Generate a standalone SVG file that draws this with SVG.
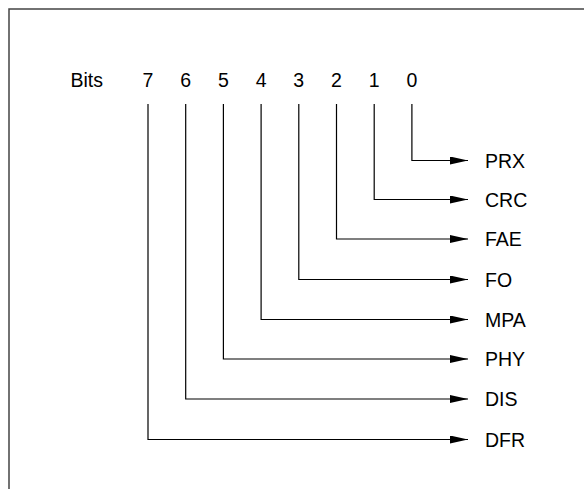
<svg xmlns="http://www.w3.org/2000/svg" width="584" height="489" viewBox="0 0 584 489">
<style>
text{font-family:"Liberation Sans",Arial,sans-serif;font-size:19.5px;fill:#000}
.c{fill:none;stroke:#000;stroke-width:1.2}
.f{fill:none;stroke:#444;stroke-width:1.5}
.m{text-anchor:middle}
</style>
<defs>
<marker id="ah" markerWidth="18" markerHeight="8" refX="18" refY="4" orient="auto" markerUnits="userSpaceOnUse">
<path d="M0,0 L18,4 L0,8 Z" fill="#000"/>
</marker>
</defs>
<rect width="584" height="489" fill="#fff"/>
<path class="f" d="M9,489 V9 H584"/>
<g id="header">
<text x="70.5" y="86.5">Bits</text>
<text class="m" x="148" y="86.5">7</text>
<text class="m" x="185.7" y="86.5">6</text>
<text class="m" x="223.4" y="86.5">5</text>
<text class="m" x="261.1" y="86.5">4</text>
<text class="m" x="298.8" y="86.5">3</text>
<text class="m" x="336.5" y="86.5">2</text>
<text class="m" x="374.2" y="86.5">1</text>
<text class="m" x="411.9" y="86.5">0</text>
</g>
<g id="connectors">
<path class="c" marker-end="url(#ah)" d="M411.9,104 V160.5 H468"/>
<path class="c" marker-end="url(#ah)" d="M374.2,104 V199.5 H468"/>
<path class="c" marker-end="url(#ah)" d="M336.5,104 V239 H468"/>
<path class="c" marker-end="url(#ah)" d="M298.8,104 V279.5 H468"/>
<path class="c" marker-end="url(#ah)" d="M261.1,104 V319.5 H468"/>
<path class="c" marker-end="url(#ah)" d="M223.4,104 V359 H468"/>
<path class="c" marker-end="url(#ah)" d="M185.7,104 V399 H468"/>
<path class="c" marker-end="url(#ah)" d="M148,104 V439.5 H468"/>
</g>
<g id="prx"><text x="485" y="167.5">PRX</text></g>
<g id="crc"><text x="485" y="206.5">CRC</text></g>
<g id="fae"><text x="485" y="246">FAE</text></g>
<g id="fo"><text x="485" y="286.5">FO</text></g>
<g id="mpa"><text x="485" y="326.5">MPA</text></g>
<g id="phy"><text x="485" y="366">PHY</text></g>
<g id="dis"><text x="485" y="406">DIS</text></g>
<g id="dfr"><text x="485" y="446.5">DFR</text></g>
</svg>
